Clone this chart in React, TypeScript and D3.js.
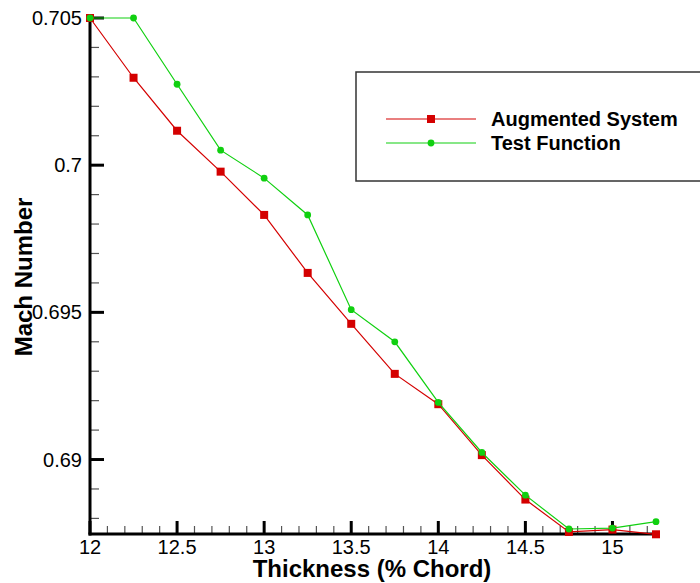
import React from "react";
import * as d3 from "d3";

// Thickness stations (% chord)
const thickness = [12, 12.25, 12.5, 12.75, 13, 13.25, 13.5, 13.75, 14, 14.25, 14.5, 14.75, 15, 15.25];

// Mach number for each method
const augmentedSystem = [0.705, 0.70297, 0.70117, 0.69978, 0.69831, 0.69634, 0.69461, 0.69291, 0.69188, 0.69015, 0.68864, 0.68754, 0.68762, 0.68746];
const testFunction = [0.705, 0.705, 0.70275, 0.70051, 0.69956, 0.69831, 0.69509, 0.694, 0.69194, 0.69024, 0.68879, 0.68764, 0.68767, 0.68789];

const xMajorTicks = [12, 12.5, 13, 13.5, 14, 14.5, 15];
const xTickLabels = ["12", "12.5", "13", "13.5", "14", "14.5", "15"];
const yMajorTicks = [0.705, 0.7, 0.695, 0.69];
const yTickLabels = ["0.705", "0.7", "0.695", "0.69"];

const seriesNames = ["Augmented System", "Test Function"];

const W = 700;
const H = 583;
const FONT = "'Liberation Sans', Arial, Helvetica, sans-serif";
const RED = "#d40000";
const GREEN = "#10d010";

export default function App() {
  const x = d3.scaleLinear().domain([12, 15.25]).range([90, 656]);
  const y = d3.scaleLinear().domain([0.68747, 0.705]).range([534, 18]);

  const xMinor = d3.range(0, 33).map((i) => 12 + i * 0.1).filter((v) => !xMajorTicks.some((m) => Math.abs(m - v) < 1e-6) && v <= 15.25 + 1e-6);
  const yMinor = d3.range(0, 18).map((i) => 0.705 - i * 0.001).filter((v) => v >= 0.68747 && !yMajorTicks.some((m) => Math.abs(m - v) < 1e-7));

  const line = d3
    .line<[number, number]>()
    .x((d) => x(d[0]))
    .y((d) => y(d[1]));

  const redPts: [number, number][] = thickness.map((t, i) => [t, augmentedSystem[i]]);
  const greenPts: [number, number][] = thickness.map((t, i) => [t, testFunction[i]]);

  const x0 = x(12);
  const yb = y(0.68747);

  return (
    <svg width={W} height={H} style={{ position: "absolute", left: 0, top: 0, background: "#fff" }} fontFamily={FONT}>
      <rect x={0} y={0} width={W} height={H} fill="#fff" />

      {/* minor ticks */}
      {yMinor.map((v, i) => (
        <line key={"ym" + i} x1={x0} x2={x0 + 9} y1={y(v)} y2={y(v)} stroke="#555" strokeWidth={1.2} />
      ))}
      {xMinor.map((v, i) => (
        <line key={"xm" + i} x1={x(v)} x2={x(v)} y1={yb} y2={yb - 8} stroke="#555" strokeWidth={1.2} />
      ))}
      {/* major ticks */}
      {yMajorTicks.map((v, i) => (
        <line key={"yM" + i} x1={x0} x2={x0 + 14} y1={y(v)} y2={y(v)} stroke="#000" strokeWidth={3} />
      ))}
      {xMajorTicks.map((v, i) => (
        <line key={"xM" + i} x1={x(v)} x2={x(v)} y1={yb} y2={yb - 13} stroke="#000" strokeWidth={3} />
      ))}

      {/* axes */}
      <line x1={x0} x2={x0} y1={y(0.705) - 1} y2={yb + 1.5} stroke="#000" strokeWidth={3} />
      <line x1={x0 - 1.5} x2={x(15.25) + 1} y1={yb} y2={yb} stroke="#000" strokeWidth={3} />

      {/* tick labels */}
      {yMajorTicks.map((v, i) => (
        <text key={"yl" + i} x={x0 - 8} y={y(v)} dy="0.35em" textAnchor="end" fontSize={20} fill="#000">
          {yTickLabels[i]}
        </text>
      ))}
      {xMajorTicks.map((v, i) => (
        <text key={"xl" + i} x={x(v)} y={554} textAnchor="middle" fontSize={20} fill="#000">
          {xTickLabels[i]}
        </text>
      ))}

      {/* axis titles */}
      <text x={372} y={577} textAnchor="middle" fontSize={24} fontWeight="bold" fill="#000">
        Thickness (% Chord)
      </text>
      <text transform={`translate(32,277) rotate(-90)`} textAnchor="middle" fontSize={24} fontWeight="bold" fill="#000">
        Mach Number
      </text>

      {/* series */}
      <path d={line(redPts) || ""} fill="none" stroke={RED} strokeWidth={1.2} />
      {redPts.map((p, i) => (
        <rect key={"r" + i} x={x(p[0]) - 4} y={y(p[1]) - 4} width={8} height={8} fill={RED} />
      ))}
      <path d={line(greenPts) || ""} fill="none" stroke={GREEN} strokeWidth={1.2} />
      {greenPts.map((p, i) => (
        <circle key={"g" + i} cx={x(p[0])} cy={y(p[1])} r={3.4} fill={GREEN} />
      ))}

      {/* legend */}
      <rect x={356} y={72} width={360} height={109} fill="#fff" stroke="#333" strokeWidth={1.5} />
      <line x1={386} x2={476} y1={119} y2={119} stroke={RED} strokeWidth={1.2} />
      <rect x={427} y={115} width={8} height={8} fill={RED} />
      <line x1={386} x2={476} y1={143} y2={143} stroke={GREEN} strokeWidth={1.2} />
      <circle cx={431} cy={143} r={3.4} fill={GREEN} />
      <text x={491} y={126} fontSize={20} fontWeight="bold" fill="#000">
        {seriesNames[0]}
      </text>
      <text x={491} y={150} fontSize={20} fontWeight="bold" fill="#000">
        {seriesNames[1]}
      </text>
    </svg>
  );
}
